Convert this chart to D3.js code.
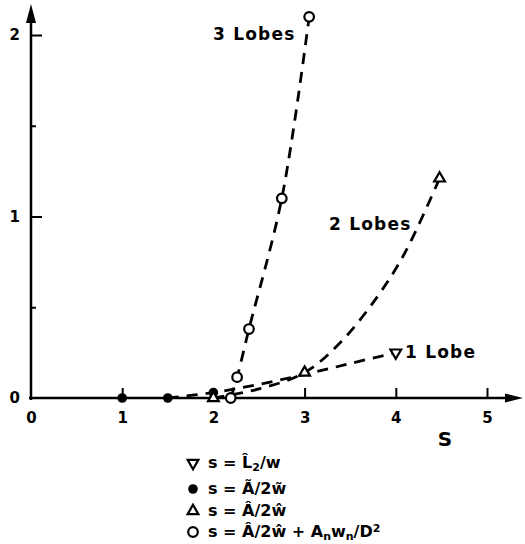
<!DOCTYPE html>
<html>
<head>
<meta charset="utf-8">
<script src="https://cdn.jsdelivr.net/npm/d3@7"></script>
<style>
  html, body { margin: 0; padding: 0; background: #fff; }
  svg { display: block; }
  text { font-family: "DejaVu Sans", sans-serif; font-weight: bold; fill: #000; }
</style>
</head>
<body>
<svg id="chart" width="525" height="544"></svg>
<script>
// ---- data -------------------------------------------------------------
// measured points, grouped by the definition of s
const lobe1Pts  = [[4.0, 0.25]];                                   // ∇  s = L̂2/w
const filledPts = [[1.0, 0], [1.5, 0], [2.0, 0.03]];               // ●  s = Ã/2w̃
const triPts    = [[2.0, 0], [3.0, 0.14], [4.48, 1.21]];           // △  s = Â/2ŵ
const circPts   = [[2.19, 0], [2.26, 0.115], [2.39, 0.38], [2.75, 1.10], [3.05, 2.10]]; // ○

// dashed trend curves for each lobe count
const curve1Lobe  = [[1.5, 0], [2.0, 0.03], [2.5, 0.075], [3.0, 0.13], [3.5, 0.19], [4.0, 0.25]];
const curve2Lobes = [[2.0, 0], [2.5, 0.05], [3.0, 0.14], [3.4, 0.31], [3.8, 0.56], [4.1, 0.80], [4.48, 1.21]];
const curve3Lobes = circPts;

const xTicks = [0, 1, 2, 3, 4, 5];
const yTicks = [0, 1, 2];
const yMinorTicks = [0.5, 1.5];

// ---- layout ------------------------------------------------------------
const svg = d3.select("#chart");
const x = d3.scaleLinear().domain([0, 5]).range([31, 487]);
const y = d3.scaleLinear().domain([0, 2]).range([398, 35]);

// ---- axes --------------------------------------------------------------
const xAxis = svg.append("g")
  .attr("transform", `translate(0,${y(0)})`)
  .call(d3.axisBottom(x).tickValues(xTicks).tickSize(-10).tickSizeOuter(0)
        .tickPadding(14).tickFormat(d3.format("d")));
xAxis.select(".domain").remove();
xAxis.selectAll(".tick line").attr("stroke", "#000").attr("stroke-width", 2)
  .filter(d => d === 0).remove();
xAxis.selectAll(".tick text").style("font-size", "15px")
  .attr("font-family", null).attr("fill", "#000");

const yAxisTicks = svg.append("g")
  .attr("transform", `translate(${x(0)},0)`)
  .call(d3.axisRight(y).tickValues(yTicks.filter(d => d > 0)).tickSize(11).tickFormat(""));
yAxisTicks.select(".domain").remove();
yAxisTicks.selectAll(".tick line").attr("stroke", "#000").attr("stroke-width", 2);

const yAxisMinor = svg.append("g")
  .attr("transform", `translate(${x(0)},0)`)
  .call(d3.axisRight(y).tickValues(yMinorTicks).tickSize(5).tickFormat(""));
yAxisMinor.select(".domain").remove();
yAxisMinor.selectAll(".tick line").attr("stroke", "#000").attr("stroke-width", 2);

const yAxisLabels = svg.append("g")
  .attr("transform", `translate(${x(0)},0)`)
  .call(d3.axisLeft(y).tickValues(yTicks).tickSize(0).tickPadding(11).tickFormat(d3.format("d")));
yAxisLabels.select(".domain").remove();
yAxisLabels.selectAll(".tick text").style("font-size", "15px")
  .attr("font-family", null).attr("fill", "#000");

// axis lines with arrow heads
svg.append("line").attr("x1", x(0)).attr("x2", x(0)).attr("y1", y(0) + 2).attr("y2", 20)
  .attr("stroke", "#000").attr("stroke-width", 2.5);
svg.append("path").attr("d", `M${x(0)},4 L${x(0) - 5},23 L${x(0) + 5},23 Z`).attr("fill", "#000");
svg.append("line").attr("x1", x(0) - 2).attr("x2", 510).attr("y1", y(0)).attr("y2", y(0))
  .attr("stroke", "#000").attr("stroke-width", 2.5);
svg.append("path").attr("d", `M523,${y(0)} L505,${y(0) - 4.5} L505,${y(0) + 4.5} Z`).attr("fill", "#000");

svg.append("text").attr("x", 445).attr("y", 446).attr("text-anchor", "middle")
  .style("font-size", "20px").text("S");

// ---- dashed curves -----------------------------------------------------
const line = d3.line().x(d => x(d[0])).y(d => y(d[1])).curve(d3.curveCatmullRom.alpha(0.5));
[curve1Lobe, curve2Lobes, curve3Lobes].forEach(c => {
  svg.append("path").attr("d", line(c)).attr("fill", "none")
    .attr("stroke", "#000").attr("stroke-width", 2.8).attr("stroke-dasharray", "11,8");
});

// ---- markers -----------------------------------------------------------
const triUp = d3.symbol().type(d3.symbolTriangle).size(50);
const marks = svg.append("g");
marks.selectAll(".filled").data(filledPts).join("circle")
  .attr("cx", d => x(d[0])).attr("cy", d => y(d[1])).attr("r", 4.8).attr("fill", "#000");
marks.selectAll(".tri").data(triPts).join("path")
  .attr("d", triUp).attr("transform", d => `translate(${x(d[0])},${y(d[1])})`)
  .attr("fill", "#fff").attr("stroke", "#000").attr("stroke-width", 2.2);
marks.selectAll(".tridown").data(lobe1Pts).join("path")
  .attr("d", triUp).attr("transform", d => `translate(${x(d[0])},${y(d[1])}) rotate(180)`)
  .attr("fill", "#fff").attr("stroke", "#000").attr("stroke-width", 2.2);
marks.selectAll(".open").data(circPts).join("circle")
  .attr("cx", d => x(d[0])).attr("cy", d => y(d[1])).attr("r", 4.8)
  .attr("fill", "#fff").attr("stroke", "#000").attr("stroke-width", 2.2);

// ---- curve labels ------------------------------------------------------
const lbl = (tx, ty, s) => svg.append("text").attr("x", tx).attr("y", ty)
  .style("font-size", "17px").style("letter-spacing", "1.2px").text(s);
lbl(213, 40, "3 Lobes");
lbl(329, 230, "2 Lobes");
lbl(405, 358, "1 Lobe");

// ---- legend ------------------------------------------------------------
const legend = svg.append("g").style("font-size", "16px");
const legX = 193, textX = 208;
const rowY = [463, 489, 511, 532];

legend.append("path").attr("d", triUp)
  .attr("transform", `translate(${legX},${rowY[0]}) rotate(180)`)
  .attr("fill", "#fff").attr("stroke", "#000").attr("stroke-width", 2.2);
legend.append("circle").attr("cx", legX).attr("cy", rowY[1]).attr("r", 4.8).attr("fill", "#000");
legend.append("path").attr("d", triUp)
  .attr("transform", `translate(${legX},${rowY[2]})`)
  .attr("fill", "#fff").attr("stroke", "#000").attr("stroke-width", 2.2);
legend.append("circle").attr("cx", legX).attr("cy", rowY[3]).attr("r", 4.8)
  .attr("fill", "#fff").attr("stroke", "#000").attr("stroke-width", 2.2);

const rows = [
  [["s = L\u0302", 0], ["2", 1], ["/w", 0]],
  [["s = A\u0303/2w\u0303", 0]],
  [["s = A\u0302/2w\u0302", 0]],
  [["s = A\u0302/2w\u0302 + A", 0], ["n", 1], ["w", 0], ["n", 1], ["/D", 0], ["2", -1]]
];
rows.forEach((parts, i) => {
  const t = legend.append("text").attr("x", textX).attr("y", rowY[i] + 5);
  parts.forEach(([s, k]) => {
    const ts = t.append("tspan").text(s);
    if (k === 1) ts.attr("baseline-shift", "-30%").style("font-size", "11px");
    if (k === -1) ts.attr("baseline-shift", "45%").style("font-size", "11px");
  });
});
</script>
</body>
</html>
